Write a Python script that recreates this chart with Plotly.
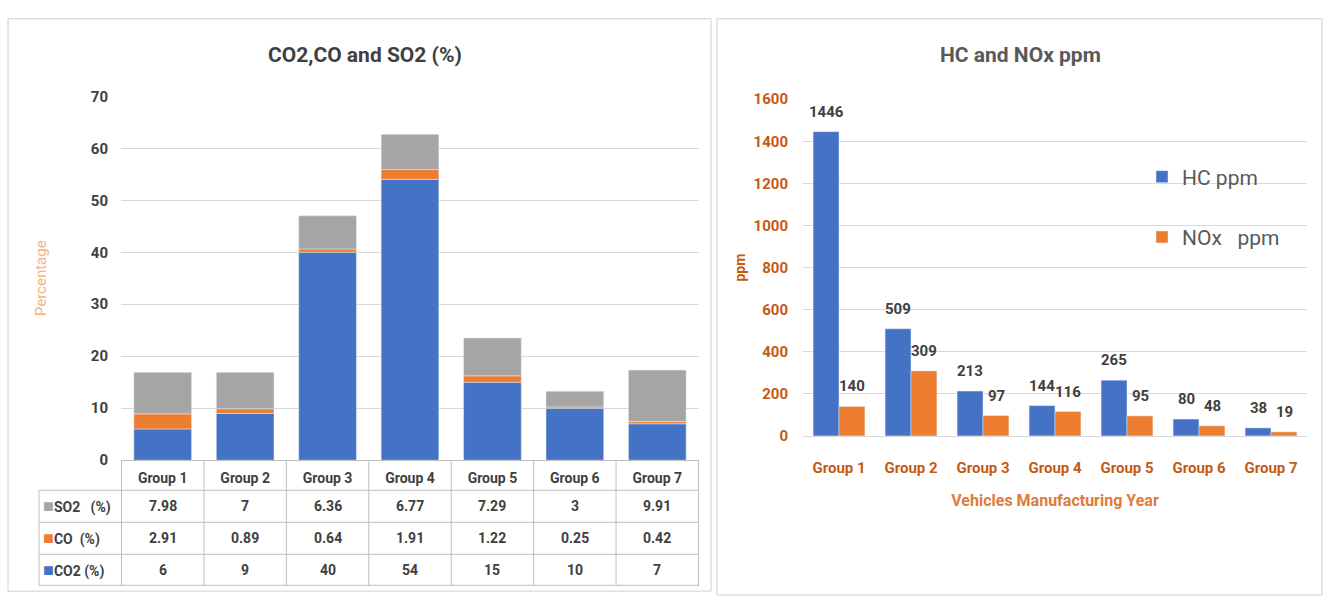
import plotly.graph_objects as go

# ---- data ----
groups = ["Group 1", "Group 2", "Group 3", "Group 4", "Group 5", "Group 6", "Group 7"]
co2_pct = [6, 9, 40, 54, 15, 10, 7]
co_pct = [2.91, 0.89, 0.64, 1.91, 1.22, 0.25, 0.42]
so2_pct = [7.98, 7, 6.36, 6.77, 7.29, 3, 9.91]
hc_ppm = [1446, 509, 213, 144, 265, 80, 38]
nox_ppm = [140, 309, 97, 116, 95, 48, 19]

BLUE = "#4472C4"
ORANGE = "#ED7D31"
GRAY = "#A5A5A5"
GRID = "#D9D9D9"
TXT = "#404040"
AXIS_ORANGE = "#C55A11"
FONT = "Roboto, Liberation Sans Narrow, sans-serif"

W, H = 1330, 605


def px(x):
    return x / W


def py(y):
    return 1 - y / H


def f(size, color=TXT, weight="bold"):
    return dict(family=FONT, size=size, color=color, weight=weight)


fig = go.Figure()

# ---- left: stacked percentages (stack built from bases) ----
co_base = list(co2_pct)
so2_base = [a + b for a, b in zip(co2_pct, co_pct)]
fig.add_trace(go.Bar(x=groups, y=co2_pct, name="CO2 (%)", marker_color=BLUE,
                     width=0.7, xaxis="x", yaxis="y", showlegend=False))
fig.add_trace(go.Bar(x=groups, y=co_pct, base=co_base, name="CO (%)", marker_color=ORANGE,
                     width=0.7, xaxis="x", yaxis="y", showlegend=False))
fig.add_trace(go.Bar(x=groups, y=so2_pct, base=so2_base, name="SO2 (%)", marker_color=GRAY,
                     width=0.7, xaxis="x", yaxis="y", showlegend=False))

# ---- right: HC and NOx side by side ----
fig.add_trace(go.Bar(x=groups, y=hc_ppm, name="HC ppm", marker_color=BLUE,
                     width=0.36, offset=-0.36, xaxis="x2", yaxis="y2",
                     legendgroup="hc"))
fig.add_trace(go.Bar(x=groups, y=nox_ppm, name="NOx\u00a0\u00a0\u00a0ppm", marker_color=ORANGE,
                     width=0.36, offset=0, xaxis="x2", yaxis="y2",
                     legendgroup="nox"))

annotations = []

# value labels above the ppm bars
for g, v in zip(groups, hc_ppm):
    annotations.append(dict(x=g, y=v, xref="x2", yref="y2", text=str(v), showarrow=False,
                            xshift=-13, yshift=9, yanchor="bottom", xanchor="center",
                            font=f(15)))
for g, v in zip(groups, nox_ppm):
    annotations.append(dict(x=g, y=v, xref="x2", yref="y2", text=str(v), showarrow=False,
                            xshift=13, yshift=9, yanchor="bottom", xanchor="center",
                            font=f(15)))

# data table under the left chart
row_y = [512, 545, 578]
row_series = [
    (GRAY, "SO2\u00a0\u00a0\u00a0(%)", so2_pct),
    (ORANGE, "CO\u00a0\u00a0(%)", co_pct),
    (BLUE, "CO2\u00a0(%)", co2_pct),
]
for yy, (col, label, vals) in zip(row_y, row_series):
    annotations.append(dict(x=px(41), y=py(yy), xref="paper", yref="paper",
                            xanchor="left", yanchor="middle", showarrow=False,
                            text=f"<span style='color:{col};font-size:18px'>■</span>{label}",
                            font=f(14)))
    for g, v in zip(groups, vals):
        annotations.append(dict(x=g, y=py(yy), xref="x", yref="paper", showarrow=False,
                                xanchor="center", yanchor="middle",
                                text=f"{v:g}", font=f(14)))

# titles
annotations.append(dict(x=px(365), y=py(47), xref="paper", yref="paper", showarrow=False,
                        xanchor="center", yanchor="middle",
                        text="CO2,CO and SO2 (%)", font=f(21)))
annotations.append(dict(x=px(1020), y=py(47), xref="paper", yref="paper", showarrow=False,
                        xanchor="center", yanchor="middle",
                        text="HC and NOx ppm", font=f(21, "#595959")))

shapes = []
TABLE_LINE = "#BFBFBF"
# table grid: vertical lines at the category boundaries
for i in range(8):
    shapes.append(dict(type="line", xref="x", yref="paper", x0=i - 0.5, x1=i - 0.5,
                       y0=py(594), y1=py(465), line=dict(color=TABLE_LINE, width=1)))
shapes.append(dict(type="line", xref="paper", yref="paper", x0=px(39), x1=px(39),
                   y0=py(594), y1=py(496), line=dict(color=TABLE_LINE, width=1)))
for yy in [496, 529, 562, 594]:
    shapes.append(dict(type="line", xref="paper", yref="paper", x0=px(39), x1=px(699),
                       y0=py(yy), y1=py(yy), line=dict(color=TABLE_LINE, width=1)))
# panel frames
shapes.append(dict(type="rect", xref="paper", yref="paper", x0=px(8), x1=px(711),
                   y0=py(600), y1=py(10), line=dict(color="#D0D0D0", width=1)))
shapes.append(dict(type="rect", xref="paper", yref="paper", x0=px(717), x1=px(1322),
                   y0=py(604), y1=py(10), line=dict(color="#D0D0D0", width=1)))

fig.update_layout(
    width=W, height=H,
    margin=dict(l=0, r=0, t=0, b=0),
    paper_bgcolor="white", plot_bgcolor="white",
    barmode="overlay",
    font=dict(family=FONT, color=TXT),
    xaxis=dict(domain=[px(121), px(699)], showticklabels=True, ticks="",
               tickfont=f(14), ticklabelstandoff=5,
               showgrid=False, showline=True, linecolor=TABLE_LINE, zeroline=False),
    yaxis=dict(domain=[py(465), py(90)], range=[0, 70], dtick=10, showgrid=True,
               gridcolor=GRID, zeroline=False, showline=False,
               tickfont=f(15), ticklabelstandoff=12,
               title=dict(text="Percentage", font=f(15, "#F4B183", "normal"),
                          standoff=40)),
    xaxis2=dict(domain=[px(803), px(1307)], anchor="y2", ticks="",
                tickfont=f(15, AXIS_ORANGE), ticklabelstandoff=18,
                showgrid=False, showline=True, linecolor=GRID, zeroline=False,
                title=dict(text="Vehicles Manufacturing Year",
                           font=f(16, "#E07B39"), standoff=18)),
    yaxis2=dict(domain=[py(440), py(93)], anchor="x2", range=[0, 1600], dtick=200,
                showgrid=True, gridcolor=GRID, zeroline=False, showline=False,
                tickfont=f(15, AXIS_ORANGE), ticklabelstandoff=14,
                title=dict(text="ppm", font=f(14, AXIS_ORANGE), standoff=4)),
    legend=dict(x=px(1142), y=py(152), xanchor="left", yanchor="top",
                font=f(21, "#595959", "normal"),
                tracegroupgap=30, bgcolor="rgba(0,0,0,0)", itemwidth=30),
    annotations=annotations,
    shapes=shapes,
)

fig.write_html("out.html")
